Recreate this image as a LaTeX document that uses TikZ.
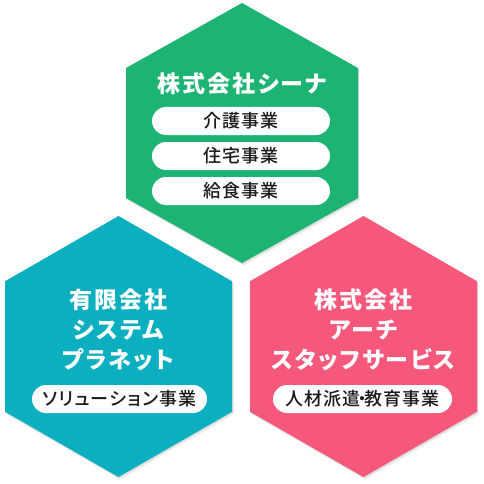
\documentclass[tikz,border=0pt]{standalone}
\usepackage{fontspec}
\newfontfamily\jptitle[LetterSpace=9,RawFeature=+palt]{Noto Sans CJK JP}
\newfontfamily\jppill[UprightFont=* Medium,LetterSpace=7,RawFeature=+palt]{Noto Sans CJK JP}
\definecolor{hgreen}{HTML}{1DB473}
\definecolor{hteal}{HTML}{0BAFC0}
\definecolor{hpink}{HTML}{F5587B}
\definecolor{ptext}{HTML}{1A1A1A}
\newcommand\myhex[5]{%
  \begin{scope}[shift={(#1,#2)}]
    \fill[black,opacity=0.07] (1.5,{-#3+2.5}) -- ({#4+1.5},{-#3/2+2.5}) -- ({#4+1.5},{#3/2+2.5}) -- (1.5,{#3+2.5}) -- ({-#4+1.5},{#3/2+2.5}) -- ({-#4+1.5},{-#3/2+2.5}) -- cycle;
    \fill[black,opacity=0.07] (0.8,{-#3+1.2}) -- ({#4+0.8},{-#3/2+1.2}) -- ({#4+0.8},{#3/2+1.2}) -- (0.8,{#3+1.2}) -- ({-#4+0.8},{#3/2+1.2}) -- ({-#4+0.8},{-#3/2+1.2}) -- cycle;
    \fill[#5] (0,{-#3}) -- ({#4},{-#3/2}) -- ({#4},{#3/2}) -- (0,{#3}) -- ({-#4},{#3/2}) -- ({-#4},{-#3/2}) -- cycle;
  \end{scope}}
\tikzset{
  title/.style={text=white, align=center, inner sep=0pt, font=\jptitle\bfseries\fontsize{23}{30}\selectfont},
  pill/.style={fill=white, rounded corners=14pt, minimum height=28pt, inner sep=0pt, text=ptext, font=\jppill\fontsize{18}{20}\selectfont}
}
\begin{document}
\begin{tikzpicture}[x=1pt,y=-1pt]
\useasboundingbox (0,0) rectangle (483,484);
\myhex{242}{133}{130}{116}{hgreen}
\myhex{118.5}{346.5}{130.5}{113.5}{hteal}
\myhex{363.5}{346.5}{130.5}{113.5}{hpink}

\node[title] (gt) at (242,84) {株式会社シーナ};
\node[pill, minimum width=178pt] (g1) at (241,121) {介護事業};
\node[pill, minimum width=178pt] (g2) at (241,156) {住宅事業};
\node[pill, minimum width=178pt] (g3) at (241,191) {給食事業};

\node[title] (tt) at (118.5,330) {有限会社\\システム\\プラネット};
\node[pill, minimum width=175pt] (t1) at (119.5,399) {ソリューション事業};

\node[title] (pt) at (363.5,330) {株式会社\\アーチ\\スタッフサービス};
\node[pill, minimum width=179pt] (p1) at (362.5,399) {人材派遣\kern-3pt・\kern-3pt教育事業};
\end{tikzpicture}
\end{document}
